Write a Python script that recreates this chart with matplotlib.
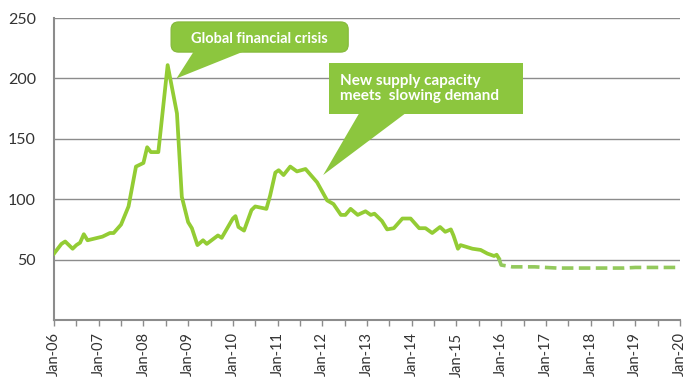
import matplotlib
matplotlib.use("Agg")
import matplotlib.pyplot as plt
from matplotlib.patches import FancyBboxPatch, Polygon, Rectangle
import numpy as np

plt.rcParams['font.family'] = ['Lato', 'DejaVu Sans']

# months since Jan-2006 and price index (historical)
hist_months = [0, 2, 3, 5, 6, 7, 8, 9, 13, 15, 16, 18, 20, 22, 24, 25, 26, 28,
               30.5, 33, 34.3, 36, 37, 38.5, 40, 41, 44, 45, 48, 48.7, 49.5, 51,
               53, 54, 57, 58, 59.4, 60.3, 61.6, 63.4, 65.2, 67.5, 70.6, 73.3,
               75, 77, 78.2, 79.6, 81.5, 83.6, 85, 86, 88, 89.4, 91.2, 93.5, 95.7,
               98, 99.7, 101.5, 103.6, 105, 106.5, 107.2, 108.4, 109.1, 112.3,
               114.5, 116.3, 118.1, 118.8, 119.4]
hist_values = [55, 63, 65, 59, 62, 64, 71, 66, 69, 72, 72, 79, 94, 127, 130, 143,
               139, 139, 211, 171, 102, 81, 76, 62, 66, 63, 70, 68, 84, 86, 77,
               74, 91, 94, 92, 103, 122, 124, 120, 127, 123, 125, 114, 99, 96,
               87, 87, 92, 87, 90, 87, 88, 82, 75, 76, 84, 84, 76, 76, 72, 77,
               73, 75, 70, 59, 62, 59, 58, 55, 53, 54, 51]

# forecast, quarterly from Jan-2016
fc_months = [120, 123, 126, 129, 132, 135, 138, 141, 144, 147, 150, 153, 156,
             159, 162, 165, 168]
fc_values = [45.5, 44, 44, 44, 43.5, 43, 43, 43, 43, 43, 43, 43, 43.5, 43.5,
             43.5, 43.5, 43.5]

years = list(range(2006, 2021))
year_labels = ["Jan-%02d" % (y % 100) for y in years]

green = '#8cc63e'
gray = '#8c8c8c'

fig = plt.figure(figsize=(6.85, 3.79), dpi=100)
ax = fig.add_axes([54 / 685, 1 - 320 / 379, 626 / 685, 302 / 379])

hx = 2006 + np.array(hist_months) / 12
fx = 2006 + np.array(fc_months) / 12
ax.plot(hx, hist_values, color='#93cc34', lw=2.7, solid_joinstyle='round', zorder=3)
ax.plot(np.r_[hx[-1], fx], np.r_[hist_values[-1], fc_values], color='#93c95c',
        lw=2.6, ls=(0, (3.2, 1.5)), zorder=3)

ax.set_xlim(2006, 2020)
ax.set_ylim(0, 250)
ax.set_yticks([0, 50, 100, 150, 200, 250])
ax.set_yticklabels(['', '50', '100', '150', '200', '250'])
ax.yaxis.grid(True, color=gray, lw=1)
ax.set_axisbelow(True)

ax.set_xticks(years)
ax.set_xticklabels(year_labels, rotation=90)
ax.set_xticks(np.arange(2006.5, 2020, 1), minor=True)
ax.tick_params(axis='x', which='both', direction='out', length=4, color=gray,
               width=1, labelsize=10.5, labelcolor='#333333', pad=5)
ax.tick_params(axis='y', length=0, labelsize=11.5, labelcolor='#333333', pad=13)

for s in ['top', 'right']:
    ax.spines[s].set_visible(False)
for s in ['left', 'bottom']:
    ax.spines[s].set_color(gray)
    ax.spines[s].set_linewidth(1.5)


def callout(box, base, tip_data, rounded):
    x0, y0, x1, y1 = box
    if rounded:
        p = FancyBboxPatch((x0, y0), x1 - x0, y1 - y0,
                           boxstyle='round,pad=0,rounding_size=0.012',
                           transform=ax.transAxes, fc=green, ec='#84b83a',
                           lw=0.8, zorder=5, clip_on=False,
                           mutation_aspect=626 / 302)
    else:
        p = Rectangle((x0, y0), x1 - x0, y1 - y0, transform=ax.transAxes,
                      fc=green, ec='none', zorder=5, clip_on=False)
    ax.add_patch(p)
    b0 = ax.transAxes.transform((base[0], base[2]))
    b1 = ax.transAxes.transform((base[1], base[2]))
    t = ax.transData.transform(tip_data)
    tri = Polygon([b0, b1, t], closed=True, transform=None, fc=green,
                  ec='none', zorder=5, clip_on=False)
    fig.patches.append(tri)


callout((0.187, 0.887, 0.470, 0.987), (0.225, 0.31, 0.895), (2008.74, 200), True)
callout((0.439, 0.682, 0.749, 0.851), (0.489, 0.565, 0.69), (2012.02, 120), False)

ax.text(0.328, 0.932, 'Global financial crisis', transform=ax.transAxes,
        ha='center', va='center', color='white', fontsize=10.5,
        fontweight='bold', zorder=6)
ax.text(0.457, 0.768, 'New supply capacity\nmeets  slowing demand',
        transform=ax.transAxes, ha='left', va='center', color='white',
        fontsize=11, fontweight='bold', linespacing=1.1, zorder=6)

fig.savefig('out.png', dpi=100)
